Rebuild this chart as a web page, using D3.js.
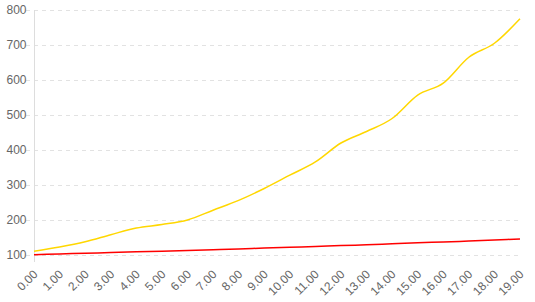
<!DOCTYPE html>
<html>
<head>
<meta charset="utf-8">
<script src="https://cdn.jsdelivr.net/npm/d3@7"></script>
<style>
  body { margin: 0; background: #fff; }
  text { font-family: "Liberation Sans", Helvetica, Arial, sans-serif; }
</style>
</head>
<body>
<svg width="535" height="302"></svg>
<script>
// x categories
var xLabels = ['0.00','1.00','2.00','3.00','4.00','5.00','6.00','7.00','8.00','9.00',
               '10.00','11.00','12.00','13.00','14.00','15.00','16.00','17.00','18.00','19.00']
// yellow series
var yellowVals = [111, 123, 138, 158, 177, 187, 200, 228, 256, 290,
                  328, 366, 420, 453, 490, 557, 591, 665, 705, 775]
// red series
var redVals = [101, 103, 105, 107, 109, 111, 113, 115, 117, 120,
               122, 124, 127, 129, 132, 135, 137, 140, 143, 146]
var yTicks = [100, 200, 300, 400, 500, 600, 700, 800]

var svg = d3.select('svg')
var plotL = 34, plotR = 520, plotT = 10, plotB = 255

var mapX = d3.scalePoint()
    .domain(xLabels)
    .range([plotL, plotR])
var mapY = d3.scaleLinear()
    .domain([100, 800])
    .range([plotB, plotT])

// grid lines (dashed)
svg.append('g')
    .selectAll('line')
    .data(yTicks)
    .enter()
    .append('line')
    .attr('x1', plotL - 8)
    .attr('x2', plotR)
    .attr('y1', function(d){ return mapY(d) + 0.5 })
    .attr('y2', function(d){ return mapY(d) + 0.5 })
    .style('stroke', '#e2e2e2')
    .style('stroke-dasharray', '4,4')

// y axis
var yAxis = d3.axisLeft(mapY)
    .tickValues(yTicks)
    .tickSize(0)
    .tickPadding(8)
var gy = svg.append('g')
    .attr('transform', 'translate(' + (plotL + 0.5) + ',0)')
    .call(yAxis)
gy.select('.domain').remove()
gy.selectAll('text').style('font-size', '12px').style('fill', '#666')

svg.append('line')
    .attr('x1', plotL + 0.5).attr('x2', plotL + 0.5)
    .attr('y1', plotT).attr('y2', plotB + 7)
    .style('stroke', '#ddd')

// x axis labels, rotated
var xAxis = d3.axisBottom(mapX).tickSize(0).tickPadding(0)
var gx = svg.append('g')
    .attr('transform', 'translate(0,' + plotB + ')')
    .call(xAxis)
gx.select('.domain').remove()
gx.selectAll('text')
    .style('font-size', '12px')
    .style('fill', '#666')
    .attr('text-anchor', 'end')
    .attr('dy', '0.35em')
    .attr('transform', 'translate(1,17) rotate(-45)')
    .attr('y', 0)

var line = d3.line()
    .x(function(d, i){ return mapX(xLabels[i]) })
    .y(function(d){ return mapY(d) })
    .curve(d3.curveMonotoneX)

svg.append('path')
    .datum(redVals)
    .attr('d', line)
    .style('fill', 'none')
    .style('stroke', '#ff0000')
    .style('stroke-width', 1.5)

svg.append('path')
    .datum(yellowVals)
    .attr('d', line)
    .style('fill', 'none')
    .style('stroke', '#ffd700')
    .style('stroke-width', 1.5)
</script>
</body>
</html>
